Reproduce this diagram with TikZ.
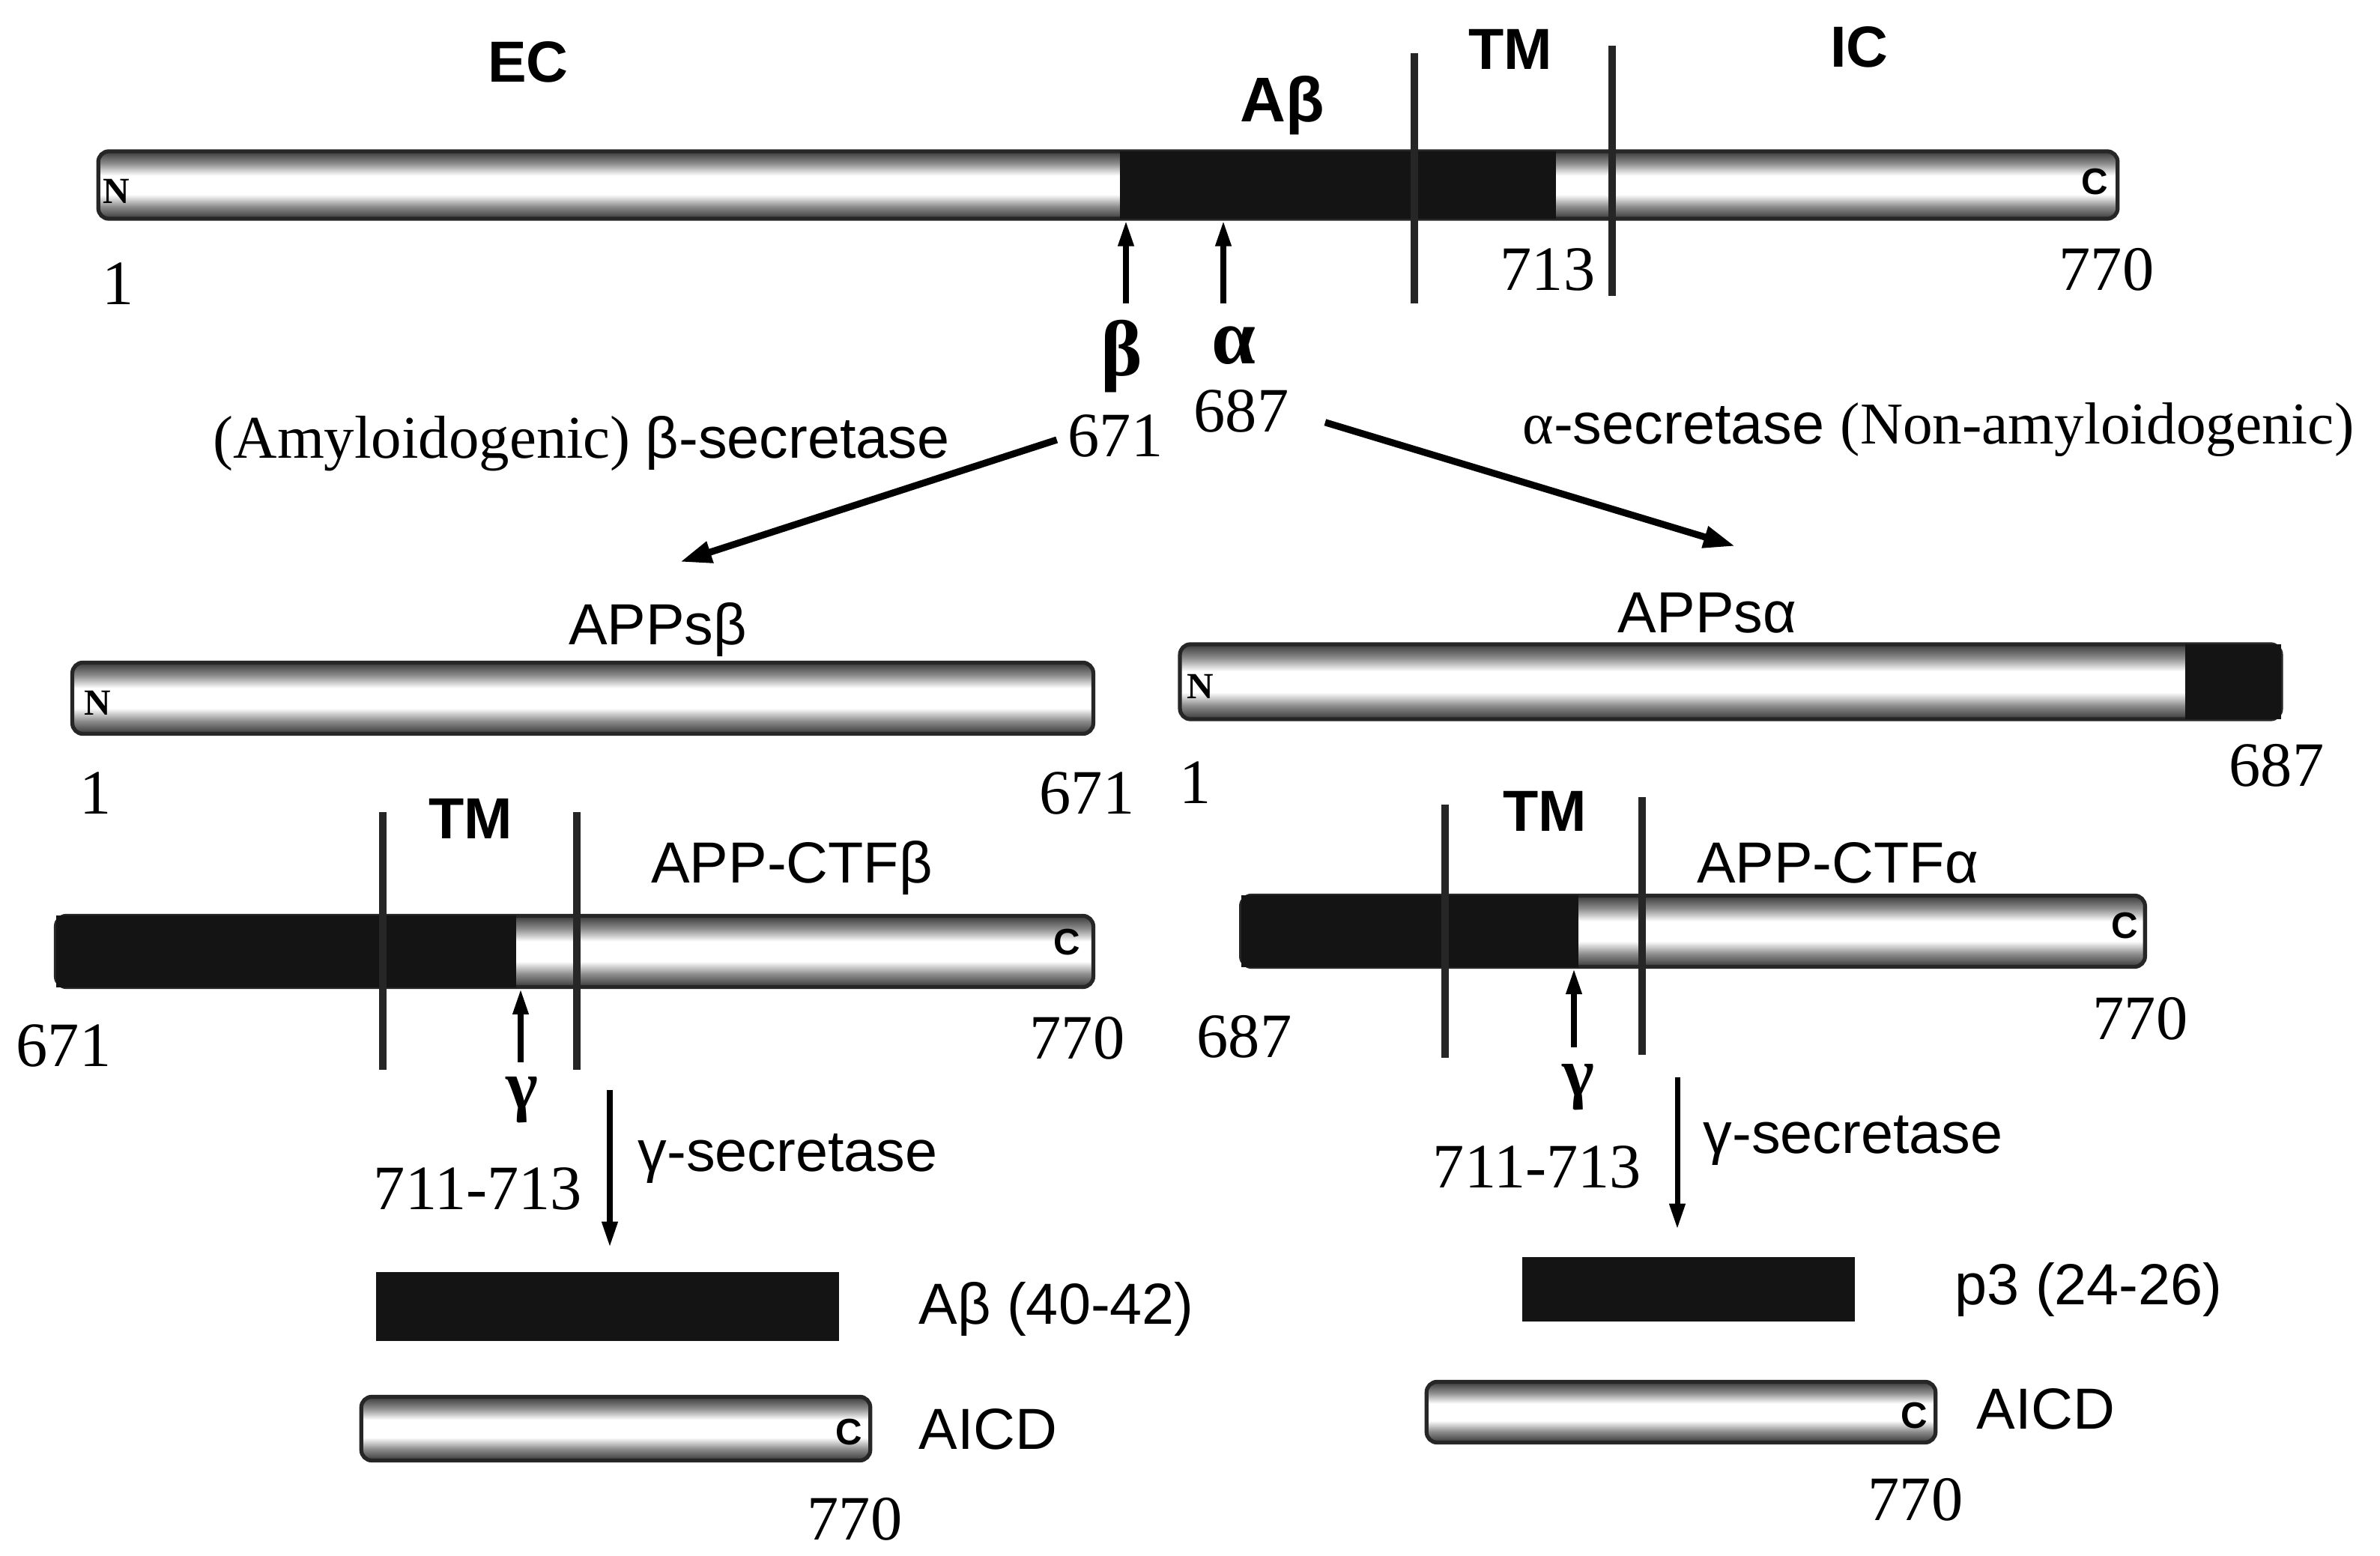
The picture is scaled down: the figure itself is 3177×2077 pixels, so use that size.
\documentclass[tikz,border=0pt]{standalone}
\usepackage{fontspec}
\setmainfont{Liberation Serif}
\setsansfont{Liberation Sans}
\usetikzlibrary{arrows.meta}
\pgfdeclareverticalshading{tubeshade}{100bp}{color(0bp)=(black!78); color(25bp)=(black!78); color(34bp)=(black!45); color(43bp)=(white); color(57bp)=(white); color(66bp)=(black!45); color(75bp)=(black!78); color(100bp)=(black!78)}
\begin{document}
\begin{tikzpicture}[x=0.01cm,y=-0.01cm,
  tube/.style={rectangle, inner sep=0pt, draw=black!85, line width=1.5pt, shading=tubeshade, rounded corners=4pt},
  blk/.style={rectangle, inner sep=0pt, fill=black!92, draw=none},
  tmline/.style={line width=2.6pt, black!85},
  cutarrow/.style={line width=2pt, -{Triangle[length=0.34cm,width=0.2cm]}},
  flowarrow/.style={line width=2.6pt, -{Triangle[length=0.42cm,width=0.28cm]}},
  sanslab/.style={font=\sffamily\fontsize{22}{26}\selectfont, anchor=base, inner sep=0pt},
  boldlab/.style={font=\sffamily\bfseries\fontsize{22}{26}\selectfont, anchor=base, inner sep=0pt},
  numlab/.style={font=\fontsize{24}{28}\selectfont, anchor=base, inner sep=0pt},
  greeklab/.style={font=\bfseries\fontsize{30}{34}\selectfont, anchor=base, inner sep=0pt},
  termlab/.style={font=\bfseries\fontsize{14}{16}\selectfont, inner sep=0pt},
  termC/.style={font=\sffamily\bfseries\fontsize{14}{16}\selectfont, inner sep=0pt},
]
\fill[white] (0,0) rectangle (3177,2077);
\useasboundingbox (0,0) rectangle (3177,2077);

% ---------- full APP ----------
\node[tube, minimum width=26.94cm, minimum height=0.9cm] (app) at (1479,247) {};
\node[blk, minimum width=5.82cm, minimum height=0.9cm] (appab) at (1786,247) {};
\node[termlab] (appN) at (155,255) {N};
\node[termC] (appC) at (2796,243) {C};
\coordinate (tmAt) at (1888,71); \coordinate (tmAb) at (1888,405);
\coordinate (tmBt) at (2152,61); \coordinate (tmBb) at (2152,395);
\draw[tmline] (tmAt) -- (tmAb);
\draw[tmline] (tmBt) -- (tmBb);
\node[boldlab] (ec) at (705,110) {EC};
\node[boldlab, font=\sffamily\bfseries\fontsize{24}{28}\selectfont] (abtop) at (1712,163) {Aβ};
\node[boldlab] (tmtop) at (2016,93) {TM};
\node[boldlab] (ic) at (2482,90) {IC};
\node[numlab] (n1top) at (158,407) {1};
\node[numlab] (n713) at (2066,388) {713};
\node[numlab] (n770top) at (2812,388) {770};
\coordinate (bcut) at (1503,405);
\coordinate (acut) at (1633,405);
\draw[cutarrow] (bcut) -- (bcut |- app.south);
\draw[cutarrow] (acut) -- (acut |- app.south);
\node[greeklab] (betal) at (1497,502) {β};
\node[greeklab] (alphal) at (1647,486) {α};
\node[numlab] (n671) at (1489,610) {671};
\node[numlab] (n687) at (1657,577) {687};
\node[anchor=base west, inner sep=0pt] (betasec) at (284,612) {\fontsize{23}{27}\selectfont(Amyloidogenic) \sffamily\fontsize{22}{26}\selectfont β-secretase};
\node[anchor=base west, inner sep=0pt] (alphasec) at (2032,593) {\fontsize{22.5}{27}\selectfont α\sffamily\fontsize{22}{26}\selectfont-secretase \rmfamily\fontsize{22.5}{27}\selectfont(Non-amyloidogenic)};
\coordinate (toB) at (908,750);
\coordinate (toA) at (2316,729);
\draw[flowarrow, shorten <=0.15cm] (n671.west) -- (toB);
\draw[flowarrow, shorten <=0.5cm] (n687.east) -- (toA);

% ---------- APPs beta ----------
\node[tube, minimum width=13.62cm, minimum height=0.95cm] (appsb) at (778,932) {};
\node[termlab] (appsbN) at (130,938) {N};
\node[sanslab] (lappsb) at (878,861) {APPsβ};
\node[numlab] (n1b) at (128,1087) {1};
\node[numlab] (n671b) at (1451,1087) {671};

% ---------- APPs alpha ----------
\node[tube, minimum width=14.69cm, minimum height=1.0cm] (appsa) at (2310,910) {};
\node[blk, minimum width=1.28cm, minimum height=1.0cm] (appsablk) at (2981,910) {};
\node[termlab] (appsaN) at (1602,916) {N};
\node[sanslab] (lappsa) at (2279,845) {APPsα};
\node[numlab] (n1a) at (1596,1073) {1};
\node[numlab] (n687a) at (3039,1050) {687};

% ---------- APP-CTF beta ----------
\node[tube, minimum width=13.84cm, minimum height=0.95cm] (ctfb) at (767,1270) {};
\node[blk, minimum width=6.14cm, minimum height=0.95cm] (ctfbblk) at (382,1270) {};
\node[termC] (ctfbC) at (1424,1258) {C};
\coordinate (tmCt) at (511,1084); \coordinate (tmCb) at (511,1428);
\coordinate (tmDt) at (770,1084); \coordinate (tmDb) at (770,1428);
\draw[tmline] (tmCt) -- (tmCb);
\draw[tmline] (tmDt) -- (tmDb);
\node[boldlab] (tmb) at (628,1120) {TM};
\node[sanslab] (lctfb) at (1057,1179) {APP-CTFβ};
\coordinate (gcutb) at (695,1418);
\draw[cutarrow] (gcutb) -- (gcutb |- ctfb.south);
\node[greeklab, font=\bfseries\fontsize{26}{30}\selectfont] (gammab) at (697,1480) {γ};
\node[numlab] (n671c) at (85,1424) {671};
\node[numlab] (n770c) at (1438,1414) {770};
\node[numlab] (n711b) at (638,1615) {711-713};
\node[blk, minimum width=6.18cm, minimum height=0.91cm] (abx) at (811,1744) {};
\coordinate (gsb) at (814,1455);
\draw[cutarrow, shorten >=0.33cm] (gsb) -- (gsb |- abx.north);
\node[sanslab, anchor=base west] (gsecb) at (851,1564) {γ-secretase};
\node[sanslab, anchor=base west] (labx) at (1226,1768) {Aβ (40-42)};
\node[tube, minimum width=6.79cm, minimum height=0.85cm] (aicdL) at (822,1907) {};
\node[termC] (aicdLC) at (1133,1912) {C};
\node[sanslab, anchor=base west] (laicdL) at (1226,1935) {AICD};
\node[numlab] (n770d) at (1141,2056) {770};

% ---------- APP-CTF alpha ----------
\node[tube, minimum width=12.06cm, minimum height=0.95cm] (ctfa) at (2260,1243) {};
\node[blk, minimum width=4.5cm, minimum height=0.95cm] (ctfablk) at (1882,1243) {};
\node[termC] (ctfaC) at (2836,1236) {C};
\coordinate (tmEt) at (1929,1074); \coordinate (tmEb) at (1929,1412);
\coordinate (tmFt) at (2192,1064); \coordinate (tmFb) at (2192,1408);
\draw[tmline] (tmEt) -- (tmEb);
\draw[tmline] (tmFt) -- (tmFb);
\node[boldlab] (tma) at (2062,1110) {TM};
\node[sanslab] (lctfa) at (2453,1179) {APP-CTFα};
\coordinate (gcuta) at (2101,1398);
\draw[cutarrow] (gcuta) -- (gcuta |- ctfa.south);
\node[greeklab, font=\bfseries\fontsize{26}{30}\selectfont] (gammaa) at (2107,1463) {γ};
\node[numlab] (n687c) at (1661,1412) {687};
\node[numlab] (n770e) at (2857,1388) {770};
\node[numlab] (n711a) at (2052,1586) {711-713};
\node[blk, minimum width=4.44cm, minimum height=0.85cm] (p3) at (2254,1721) {};
\coordinate (gsa) at (2239,1438);
\draw[cutarrow, shorten >=0.37cm] (gsa) -- (gsa |- p3.north);
\node[sanslab, anchor=base west] (gseca) at (2273,1540) {γ-secretase};
\node[sanslab, anchor=base west] (lp3) at (2609,1742) {p3 (24-26)};
\node[tube, minimum width=6.79cm, minimum height=0.81cm] (aicdR) at (2244,1885) {};
\node[termC] (aicdRC) at (2555,1890) {C};
\node[sanslab, anchor=base west] (laicdR) at (2638,1908) {AICD};
\node[numlab] (n770f) at (2557,2030) {770};
\end{tikzpicture}
\end{document}
